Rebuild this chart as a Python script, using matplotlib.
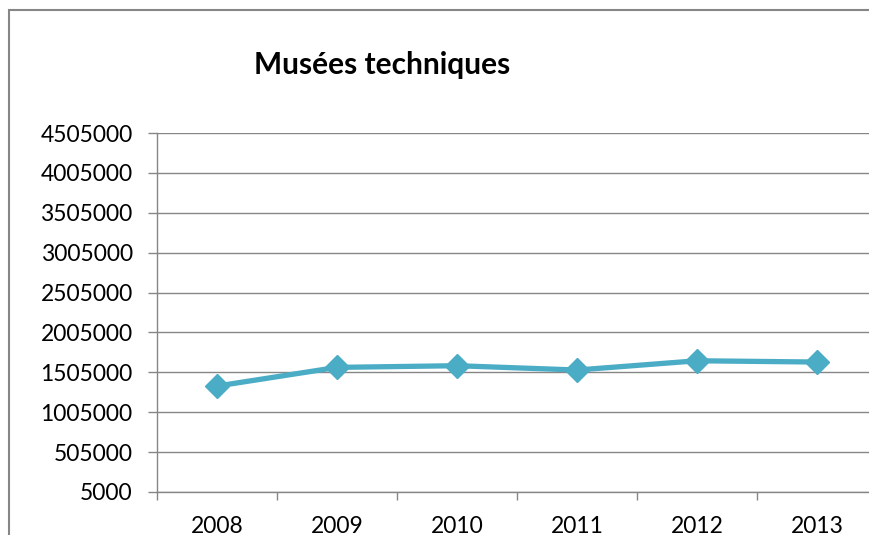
import matplotlib.pyplot as plt
from matplotlib.patches import Rectangle

# données
annees = ['2008', '2009', '2010', '2011', '2012', '2013']
visiteurs = [1333000, 1567000, 1588000, 1534000, 1650000, 1634000]
graduations = [5000, 505000, 1005000, 1505000, 2005000, 2505000, 3005000, 3505000, 4005000, 4505000]

plt.rcParams['font.family'] = ['Lato', 'DejaVu Sans']

fig = plt.figure(figsize=(8.69, 5.35), dpi=100)
ax = fig.add_axes([157 / 869, 43 / 535, 720 / 869, 359 / 535])

# cadre du graphique
fig.patches.append(Rectangle((9 / 869, -0.1), 1.2, 1.1 - 10 / 535,
                             transform=fig.transFigure, fill=False,
                             edgecolor='#868686', linewidth=1.5))

x = list(range(len(annees)))
ax.plot(x, visiteurs, color='#4BACC6', linewidth=3.8, marker='D',
        markersize=12.5, markeredgecolor='#4BACC6', zorder=3, clip_on=False)

ax.set_xlim(-0.5, 5.5)
ax.set_ylim(5000, 4505000)
ax.set_yticks(graduations)
ax.set_yticklabels([str(g) for g in graduations])
ax.set_xticks(x)
ax.set_xticklabels(annees)
ax.set_xticks([i - 0.5 for i in range(7)], minor=True)

ax.grid(axis='y', color='#868686', linewidth=1)
ax.set_axisbelow(True)
for s in ['top', 'right']:
    ax.spines[s].set_visible(False)
for s in ['left', 'bottom']:
    ax.spines[s].set_color('#868686')
    ax.spines[s].set_linewidth(1)

ax.tick_params(axis='y', length=6.5, width=1, color='#868686', pad=11,
               labelsize=16.5, labelcolor='black')
ax.tick_params(axis='x', which='major', length=0, pad=17, labelsize=16.5)
ax.tick_params(axis='x', which='minor', length=6, width=1, color='#868686')

fig.text(382 / 869, 1 - 65 / 535, 'Musées techniques', ha='center', va='center',
         fontsize=21.5, fontweight='bold')

fig.savefig('out.png', dpi=100)
